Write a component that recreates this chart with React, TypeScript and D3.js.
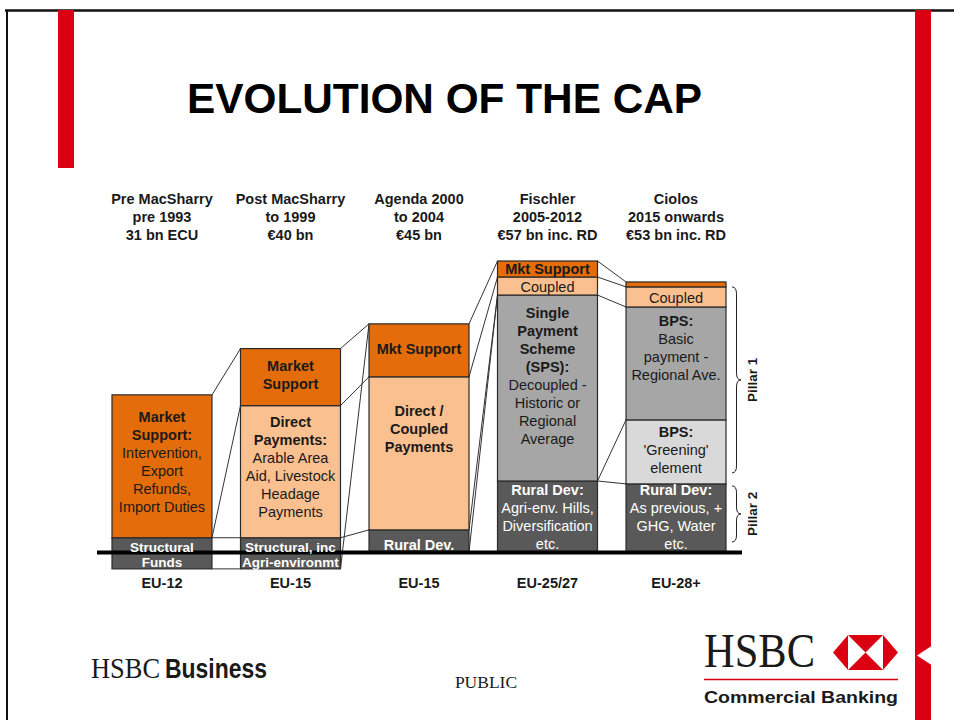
import React from "react";
import * as d3 from "d3";

const W = 954;
const H = 720;

// ---------- data ----------
const columnKeys = ["c1", "c2", "c3", "c4", "c5"];
const headerNames = ["Pre MacSharry", "Post MacSharry", "Agenda 2000", "Fischler", "Ciolos"];
const headerPeriods = ["pre 1993", "to 1999", "to 2004", "2005-2012", "2015 onwards"];
const headerBudgets = ["31 bn ECU", "€40 bn", "€45 bn", "€57 bn inc. RD", "€53 bn inc. RD"];
const memberStates = ["EU-12", "EU-15", "EU-15", "EU-25/27", "EU-28+"];
const columnBase = [-5.8, -5.8, 0, 0, 0];

type Seg = { kind: string; size: number; lines: string[]; bold: number };

const preMacSharry: Seg[] = [
  { kind: "structural", size: 10.7, lines: ["Structural", "Funds"], bold: 2 },
  { kind: "market", size: 49.1, lines: ["Market", "Support:", "Intervention,", "Export", "Refunds,", "Import Duties"], bold: 2 },
];
const postMacSharry: Seg[] = [
  { kind: "structural", size: 10.7, lines: ["Structural, inc", "Agri-environmt"], bold: 2 },
  { kind: "direct", size: 45.4, lines: ["Direct", "Payments:", "Arable Area", "Aid, Livestock", "Headage", "Payments"], bold: 2 },
  { kind: "market", size: 19.6, lines: ["Market", "Support"], bold: 2 },
];
const agenda2000: Seg[] = [
  { kind: "rural", size: 7.6, lines: ["Rural Dev."], bold: 1 },
  { kind: "direct", size: 52.6, lines: ["Direct /", "Coupled", "Payments"], bold: 3 },
  { kind: "market", size: 18.2, lines: ["Mkt Support"], bold: 1 },
];
const fischler: Seg[] = [
  { kind: "rural", size: 24.4, lines: ["Rural Dev:", "Agri-env. Hills,", "Diversification", "etc."], bold: 1 },
  { kind: "decoupled", size: 63.9, lines: ["Single", "Payment", "Scheme", "(SPS):", "Decoupled -", "Historic or", "Regional", "Average"], bold: 4 },
  { kind: "direct", size: 6.2, lines: ["Coupled"], bold: 0 },
  { kind: "market", size: 5.5, lines: ["Mkt Support"], bold: 1 },
];
const ciolos: Seg[] = [
  { kind: "rural", size: 23.4, lines: ["Rural Dev:", "As previous, +", "GHG, Water", "etc."], bold: 1 },
  { kind: "greening", size: 22.0, lines: ["BPS:", "'Greening'", "element"], bold: 1 },
  { kind: "decoupled", size: 38.8, lines: ["BPS:", "Basic", "payment -", "Regional Ave."], bold: 1 },
  { kind: "direct", size: 6.9, lines: ["Coupled"], bold: 0 },
  { kind: "market", size: 1.7, lines: [], bold: 0 },
];
const columnSegments = [preMacSharry, postMacSharry, agenda2000, fischler, ciolos];

// connectors between neighbouring columns: [level in left column, level in right column]
const connectors: [number, number][][] = [
  [[2, 3], [1, 2], [1, 1], [0, 0]],
  [[3, 3], [2, 2], [1, 1], [0, 3]],
  [[3, 4], [2, 3], [1, 2], [0, 2]],
  [[4, 5], [3, 4], [2, 3], [1, 2], [1, 1]],
];

// pillars for the last column: [from level, to level]
const pillarNames = ["Pillar 1", "Pillar 2"];
const pillarLevels: [number, number][] = [[1, 5], [0, 1]];

// ---------- style ----------
const FONT = "'Liberation Sans', Arial, Helvetica, sans-serif";
const SERIF = "'Liberation Serif', 'Times New Roman', serif";
const RED = "#DB0011";
const fills: Record<string, string> = {
  market: "#E46C0A",
  direct: "#FAC090",
  decoupled: "#A6A6A6",
  greening: "#D9D9D9",
  rural: "#595959",
  structural: "#595959",
};
const textFill: Record<string, string> = {
  market: "#1a1a1a",
  direct: "#1a1a1a",
  decoupled: "#1a1a1a",
  greening: "#1a1a1a",
  rural: "#ffffff",
  structural: "#ffffff",
};
const labelShift = [
  [1, -5],
  [1, -5, -2],
  [4, -25, -2],
  [0, -12.5, 1, 0],
  [-1, -2.5, -16, 1, 0],
];

function bracePath(x0: number, y0: number, y1: number, w: number) {
  const ym = (y0 + y1) / 2;
  const r = 7;
  const xm = x0 + w / 2;
  return `M${x0},${y0} Q${xm},${y0} ${xm},${y0 + r} L${xm},${ym - r} Q${xm},${ym} ${x0 + w},${ym} Q${xm},${ym} ${xm},${ym + r} L${xm},${y1 - r} Q${xm},${y1} ${x0},${y1}`;
}

export default function App() {
  const x = d3.scaleBand<string>().domain(columnKeys).range([112, 726]).paddingInner(0.222).paddingOuter(0);
  const y = d3.scaleLinear().domain([0, 100]).range([552, 261]);
  const bw = x.bandwidth();

  const levels = columnSegments.map((segs, i) => {
    const arr = [columnBase[i]];
    segs.forEach((s) => arr.push(arr[arr.length - 1] + s.size));
    return arr;
  });

  const lastX = x(columnKeys[4])! + bw;

  // HSBC hexagon geometry
  const hx0 = 833, hx1 = 898, hy0 = 635, hy1 = 670;
  const hh = hy1 - hy0;
  const sq0 = (hx0 + hx1) / 2 - hh / 2;
  const sq1 = (hx0 + hx1) / 2 + hh / 2;
  const hcx = (hx0 + hx1) / 2;
  const hcy = (hy0 + hy1) / 2;

  return (
    <svg width={W} height={H} viewBox={`0 0 ${W} ${H}`} style={{ position: "absolute", left: 0, top: 0, background: "#fff" }}>
      <rect x={0} y={0} width={W} height={H} fill="#fff" />
      {/* slide frame */}
      <line x1={5} y1={10.5} x2={W} y2={10.5} stroke="#111" strokeWidth={2.5} />
      <line x1={7} y1={10} x2={7} y2={H} stroke="#111" strokeWidth={2} />
      <rect x={58} y={10} width={16} height={158} fill={RED} />
      <rect x={915} y={10} width={16} height={H - 10} fill={RED} />
      <polygon points={`931.5,646 917,655.5 931.5,665`} fill="#fff" />

      {/* title */}
      <text x={187} y={113} fontFamily={FONT} fontWeight="bold" fontSize={42} textLength={515} lengthAdjust="spacingAndGlyphs" fill="#000">
        EVOLUTION OF THE CAP
      </text>

      {/* headers */}
      {columnKeys.map((k, i) => {
        const cx = x(k)! + bw / 2;
        return (
          <g key={"h" + k} fontFamily={FONT} fontWeight="bold" fontSize={14.5} fill="#1a1a1a" textAnchor="middle">
            <text x={cx} y={204}>{headerNames[i]}</text>
            <text x={cx} y={222}>{headerPeriods[i]}</text>
            <text x={cx} y={240}>{headerBudgets[i]}</text>
          </g>
        );
      })}

      {/* connectors */}
      {connectors.map((pairs, gi) =>
        pairs.map(([a, b], j) => (
          <line
            key={`c${gi}-${j}`}
            x1={x(columnKeys[gi])! + bw}
            y1={y(levels[gi][a])}
            x2={x(columnKeys[gi + 1])!}
            y2={y(levels[gi + 1][b])}
            stroke="#333"
            strokeWidth={1}
          />
        ))
      )}

      {/* stacked segments */}
      {columnSegments.map((segs, ci) => {
        const x0 = x(columnKeys[ci])!;
        return (
          <g key={"col" + ci}>
            {segs.map((s, si) => {
              const top = y(levels[ci][si + 1]);
              const bot = y(levels[ci][si]);
              return (
                <rect key={"r" + si} x={x0} y={top} width={bw} height={bot - top} fill={fills[s.kind]} stroke="#2a2a2a" strokeWidth={1.2} />
              );
            })}
          </g>
        );
      })}

      {/* axis */}
      <line x1={97} y1={552.5} x2={742} y2={552.5} stroke="#000" strokeWidth={4} />

      {/* segment labels */}
      {columnSegments.map((segs, ci) => {
        const cx = x(columnKeys[ci])! + bw / 2;
        return (
          <g key={"t" + ci}>
            {segs.map((s, si) => {
              const top = y(levels[ci][si + 1]);
              const bot = y(levels[ci][si]);
              const isStruct = s.kind === "structural";
              const lh = isStruct ? 15 : 18;
              const fs = isStruct ? 13.5 : 14.5;
              const mid = (top + bot) / 2 + labelShift[ci][si];
              const start = mid - ((s.lines.length - 1) * lh) / 2;
              return s.lines.map((ln, li) => (
                <text
                  key={`l${si}-${li}`}
                  x={cx}
                  y={start + li * lh}
                  dy="0.36em"
                  textAnchor="middle"
                  fontFamily={FONT}
                  fontSize={fs}
                  fontWeight={li < s.bold ? "bold" : "normal"}
                  fill={textFill[s.kind]}
                >
                  {ln}
                </text>
              ));
            })}
          </g>
        );
      })}

      {/* bottom labels */}
      {columnKeys.map((k, i) => (
        <text key={"m" + k} x={x(k)! + bw / 2} y={588} textAnchor="middle" fontFamily={FONT} fontWeight="bold" fontSize={14.5} fill="#1a1a1a">
          {memberStates[i]}
        </text>
      ))}

      {/* pillars */}
      {pillarLevels.map(([a, b], i) => {
        const y0 = y(levels[4][b]) + (i === 0 ? 5 : 2);
        const y1 = y(levels[4][a]) - (i === 0 ? 11 : 10);
        const ym = (y0 + y1) / 2;
        return (
          <g key={"p" + i}>
            <path d={bracePath(lastX + 6, y0, y1, 9)} fill="none" stroke="#222" strokeWidth={1} />
            <text x={lastX + 31} y={ym} transform={`rotate(-90 ${lastX + 31} ${ym})`} textAnchor="middle" fontFamily={FONT} fontWeight="bold" fontSize={13.5} fill="#1a1a1a">
              {pillarNames[i]}
            </text>
          </g>
        );
      })}

      {/* footer */}
      <text x={91} y={678} fontFamily={SERIF} fontSize={30} textLength={69} lengthAdjust="spacingAndGlyphs" fill="#1a1a1a">HSBC</text>
      <text x={165} y={678} fontFamily={FONT} fontWeight="bold" fontSize={28} textLength={102} lengthAdjust="spacingAndGlyphs" fill="#1a1a1a">Business</text>
      <text x={486} y={688} textAnchor="middle" fontFamily={SERIF} fontSize={17.5} fill="#1a1a1a">PUBLIC</text>

      <text x={704} y={667} fontFamily={SERIF} fontSize={48} textLength={111} lengthAdjust="spacingAndGlyphs" fill="#1a1a1a">HSBC</text>
      <g>
        <polygon points={`${hx0},${hcy} ${sq0},${hy0} ${sq0},${hy1}`} fill={RED} />
        <polygon points={`${hx1},${hcy} ${sq1},${hy0} ${sq1},${hy1}`} fill={RED} />
        <polygon points={`${sq0},${hy0} ${sq1},${hy0} ${hcx},${hcy}`} fill={RED} />
        <polygon points={`${sq0},${hy1} ${sq1},${hy1} ${hcx},${hcy}`} fill={RED} />
      </g>
      <line x1={704} y1={679.5} x2={898} y2={679.5} stroke={RED} strokeWidth={1.5} />
      <text x={704} y={703} fontFamily={FONT} fontWeight="bold" fontSize={17} textLength={194} lengthAdjust="spacingAndGlyphs" fill="#1a1a1a">Commercial Banking</text>
    </svg>
  );
}
